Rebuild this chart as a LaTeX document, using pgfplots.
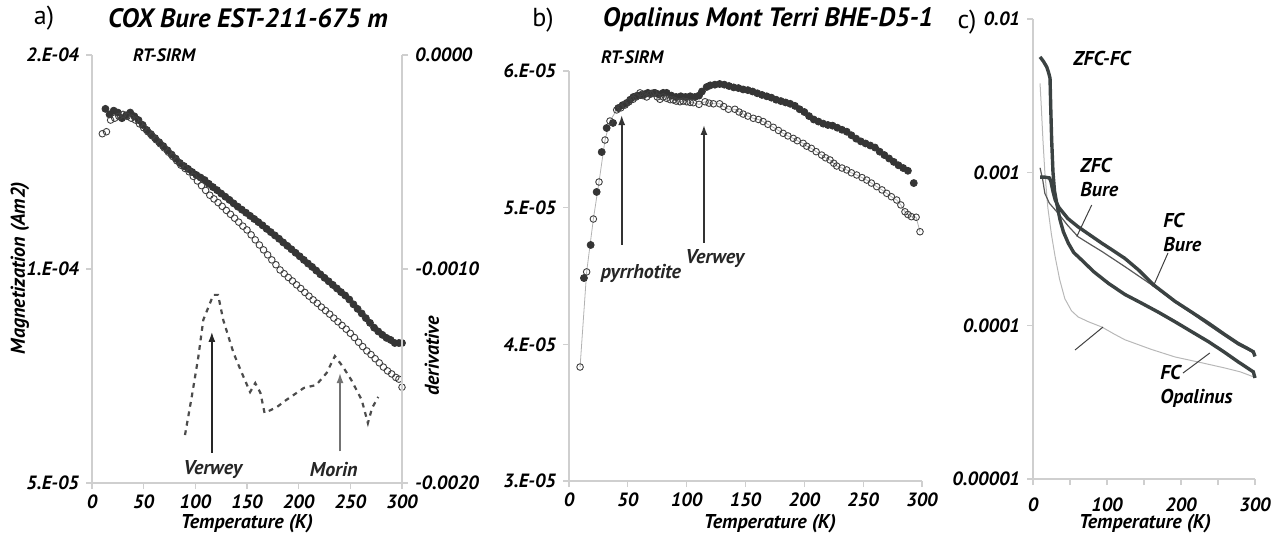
\documentclass[border=0pt]{standalone}
\usepackage{fontspec}
\setmainfont{PT Sans}
\usepackage{pgfplots}
\pgfplotsset{compat=1.18}
\usetikzlibrary{arrows.meta}
\definecolor{axgray}{HTML}{CFCFCF}
\definecolor{dotdark}{HTML}{353535}
\definecolor{curvedark}{HTML}{3B4242}
\newcommand\tk{\bfseries\itshape\fontsize{9.6}{11}\selectfont}
\newcommand\lb{\bfseries\itshape\fontsize{10}{12}\selectfont}
\pgfplotsset{
  base/.style={
    scale only axis,
    axis lines*=left,
    axis line style={draw=axgray,line width=0.6pt},
    tick style={draw=axgray,line width=0.6pt},
    tick align=outside,
    major tick length=3pt,
    tick label style={font=\tk},
    xticklabel style={yshift=-1.5pt, inner sep=1pt},
    scaled y ticks=false, scaled x ticks=false,
    xmin=0, xmax=300,
    clip=false,
    minor y tick style={draw=none},
  },
  filled/.style={only marks, mark=*, mark size=1.75pt, mark options={draw=dotdark, fill=dotdark}},
  open/.style={only marks, mark=o, mark size=1.65pt, mark options={draw=black!75, fill=white, line width=0.45pt}},
}
\begin{document}
\begin{tikzpicture}
\useasboundingbox (0,0) rectangle (642pt,270pt);
% ---------------- panel a ----------------
\node[anchor=center, font=\fontsize{13}{15}\selectfont] at (22pt,261pt) {a)};
\node[anchor=center, font=\bfseries\itshape\fontsize{13.3}{15}\selectfont] at (124pt,261pt) {COX Bure EST-211-675 m};
\node[anchor=west, font=\bfseries\itshape\fontsize{9}{11}\selectfont] at (63pt,242.5pt) {RT-SIRM};
\node[rotate=90, font=\lb] at (10pt,136pt) {Magnetization (Am2)};
\node[rotate=90, font=\lb] at (216pt,92pt) {derivative};
\node[font=\lb] at (123.5pt,8pt) {Temperature (K)};
\begin{axis}[base, at={(46pt,28.5pt)}, anchor=south west, width=155pt, height=214pt,
  ymode=log, ymin=5e-5, ymax=2e-4, ytick={5e-5,1e-4,2e-4}, yticklabels={5.E-05,1.E-04,2.E-04},
  xtick={0,50,...,300}, xticklabels={0,50,100,150,200,250,300}]
\addplot[filled] coordinates {(13,1.68e-4)(17,1.65e-4)(21,1.67e-4)(25,1.66e-4)(29,1.63e-4)(33,1.645e-4)(37,1.66e-4)(41,1.64e-4)(45,1.62e-4)(49,1.595e-4)(53,1.569e-4)(57,1.548e-4)(61,1.528e-4)(65,1.508e-4)(69,1.489e-4)(73,1.469e-4)(77,1.449e-4)(81,1.430e-4)(85,1.410e-4)(89,1.396e-4)(93,1.383e-4)(97,1.369e-4)(101,1.356e-4)(105,1.345e-4)(109,1.334e-4)(113,1.318e-4)(117,1.304e-4)(121,1.291e-4)(125,1.277e-4)(129,1.264e-4)(133,1.251e-4)(137,1.237e-4)(141,1.224e-4)(145,1.212e-4)(149,1.200e-4)(153,1.188e-4)(157,1.176e-4)(161,1.164e-4)(165,1.152e-4)(169,1.139e-4)(173,1.127e-4)(177,1.115e-4)(181,1.103e-4)(185,1.090e-4)(189,1.078e-4)(193,1.066e-4)(197,1.054e-4)(201,1.042e-4)(205,1.030e-4)(209,1.018e-4)(213,1.007e-4)(217,9.95e-5)(221,9.83e-5)(225,9.72e-5)(229,9.61e-5)(233,9.50e-5)(237,9.39e-5)(241,9.28e-5)(245,9.18e-5)(249,9.06e-5)(253,8.92e-5)(257,8.79e-5)(261,8.66e-5)(265,8.53e-5)(269,8.40e-5)(273,8.27e-5)(277,8.17e-5)(281,8.08e-5)(285,8.00e-5)(289,7.95e-5)(293,7.87e-5)(297,7.87e-5)(300,7.87e-5)};
\addplot[open] coordinates {(10,1.55e-4)(14,1.56e-4)(18,1.62e-4)(22,1.63e-4)(26,1.64e-4)(30,1.65e-4)(34,1.64e-4)(38,1.63e-4)(42,1.62e-4)(46,1.60e-4)(50,1.58e-4)(54,1.56e-4)(58,1.54e-4)(62,1.52e-4)(66,1.50e-4)(70,1.48e-4)(74,1.46e-4)(78,1.44e-4)(82,1.42e-4)(86,1.40e-4)(90,1.385e-4)(94,1.37e-4)(98,1.35e-4)(102,1.33e-4)(106,1.31e-4)(110,1.29e-4)(114,1.27e-4)(118,1.255e-4)(122,1.240e-4)(126,1.225e-4)(130,1.209e-4)(134,1.194e-4)(138,1.179e-4)(142,1.164e-4)(146,1.149e-4)(150,1.135e-4)(154,1.117e-4)(158,1.099e-4)(162,1.081e-4)(166,1.064e-4)(170,1.047e-4)(174,1.030e-4)(178,1.014e-4)(182,9.97e-5)(186,9.85e-5)(190,9.73e-5)(194,9.62e-5)(198,9.50e-5)(202,9.39e-5)(206,9.27e-5)(210,9.16e-5)(214,9.05e-5)(218,8.95e-5)(222,8.84e-5)(226,8.74e-5)(230,8.64e-5)(234,8.53e-5)(238,8.43e-5)(242,8.33e-5)(246,8.23e-5)(250,8.12e-5)(254,8.01e-5)(258,7.89e-5)(262,7.78e-5)(266,7.67e-5)(270,7.58e-5)(274,7.48e-5)(278,7.38e-5)(282,7.28e-5)(286,7.19e-5)(290,7.12e-5)(294,7.04e-5)(297,7.00e-5)(300,6.82e-5)};
\draw[-{Latex[length=5pt,width=3.5pt]}, line width=0.8pt, black!85] (axis cs:116,5.52e-5) -- (axis cs:116,8.16e-5);
\draw[-{Latex[length=5pt,width=3.5pt]}, line width=0.8pt, black!55] (axis cs:240,5.54e-5) -- (axis cs:240,7.14e-5);
\node[font=\lb, black!85] at (axis cs:117,5.23e-5) {Verwey};
\node[font=\lb, black!85] at (axis cs:234,5.23e-5) {Morin};
\end{axis}
\begin{axis}[base, at={(46pt,28.5pt)}, anchor=south west, width=155pt, height=214pt,
  axis x line=none, axis y line*=right,
  ymin=-0.002, ymax=0, ytick={-0.002,-0.001,0}, yticklabels={-0.0020,-0.0010,0.0000}]
\addplot[black!70, line width=1.1pt, dash pattern=on 2.4pt off 2.4pt] coordinates {(90,-0.001776)(96.5,-0.001598)(102.9,-0.001411)(107.7,-0.001238)(117.4,-0.001121)(122,-0.001121)(127,-0.001238)(137,-0.001393)(145,-0.001486)(153,-0.001575)(158,-0.001533)(163,-0.001579)(167,-0.001673)(179,-0.001645)(188,-0.001612)(205,-0.001556)(217,-0.001542)(227,-0.001486)(235,-0.001407)(243,-0.001458)(251,-0.001519)(261,-0.001612)(267,-0.001720)(271,-0.001650)(277,-0.001598)};
\end{axis}
% ---------------- panel b ----------------
\node[anchor=center, font=\fontsize{13}{15}\selectfont] at (271.5pt,260pt) {b)};
\node[anchor=center, font=\bfseries\itshape\fontsize{13.3}{15}\selectfont] at (384pt,260pt) {Opalinus Mont Terri BHE-D5-1};
\node[anchor=west, font=\bfseries\itshape\fontsize{9}{11}\selectfont] at (297pt,241.5pt) {RT-SIRM};
\node[font=\lb] at (385pt,8pt) {Temperature (K)};
\begin{axis}[base, at={(284.5pt,29.5pt)}, anchor=south west, width=176.5pt, height=205pt,
  ymin=3e-5, ymax=6e-5, ytick={3e-5,4e-5,5e-5,6e-5}, yticklabels={3.E-05,4.E-05,5.E-05,6.E-05},
  xtick={0,50,...,300}, xticklabels={0,50,100,150,200,250,300}]
\addplot[filled] coordinates {(12.7,4.485e-5)(18.4,4.727e-5)(23.5,5.115e-5)(27.8,5.407e-5)(32,5.583e-5)(37.4,5.62e-5)(41.9,5.729e-5)(45.5,5.75e-5)(49,5.766e-5)(52,5.79e-5)(54.7,5.81e-5)(58,5.82e-5)(61,5.824e-5)(64,5.83e-5)(67,5.84e-5)(70,5.835e-5)(73,5.84e-5)(76,5.83e-5)(80,5.84e-5)(83,5.84e-5)(87,5.82e-5)(91,5.81e-5)(95,5.815e-5)(99,5.81e-5)(103,5.815e-5)(107,5.81e-5)(110.5,5.82e-5)(113,5.85e-5)(117,5.883e-5)(120,5.895e-5)(124,5.9e-5)(128,5.905e-5)(132,5.9e-5)(136,5.89e-5)(140,5.88e-5)(144,5.875e-5)(148,5.865e-5)(152,5.86e-5)(156,5.85e-5)(160,5.837e-5)(164,5.825e-5)(168,5.815e-5)(172,5.805e-5)(176,5.79e-5)(180,5.78e-5)(184,5.77e-5)(188,5.76e-5)(192,5.745e-5)(196,5.72e-5)(200,5.70e-5)(204,5.67e-5)(208,5.645e-5)(212,5.63e-5)(216,5.615e-5)(220,5.605e-5)(224,5.6e-5)(228,5.585e-5)(232,5.57e-5)(236,5.556e-5)(240,5.53e-5)(244,5.505e-5)(248,5.485e-5)(252,5.47e-5)(256,5.455e-5)(260,5.44e-5)(264,5.41e-5)(268,5.385e-5)(272,5.36e-5)(276,5.335e-5)(280,5.31e-5)(284,5.29e-5)(288,5.27e-5)(293,5.18e-5)};
\addplot[draw=black!30, line width=0.4pt, mark=o, mark size=1.65pt, mark options={draw=black!75, fill=white, line width=0.45pt}] coordinates {(9.4,3.834e-5)(15,4.53e-5)(20.7,4.917e-5)(25.5,5.188e-5)(30.6,5.495e-5)(34.8,5.634e-5)(40.5,5.715e-5)(44,5.73e-5)(47.6,5.751e-5)(51,5.775e-5)(54.4,5.793e-5)(57,5.81e-5)(60.3,5.84e-5)(63,5.82e-5)(66,5.81e-5)(69,5.83e-5)(72,5.84e-5)(75,5.81e-5)(77.3,5.793e-5)(80,5.81e-5)(83,5.80e-5)(86,5.79e-5)(88.6,5.788e-5)(91,5.78e-5)(94.3,5.775e-5)(97,5.78e-5)(100,5.775e-5)(103,5.77e-5)(105.7,5.768e-5)(110.5,5.756e-5)(115.6,5.775e-5)(119,5.765e-5)(122.7,5.76e-5)(128,5.76e-5)(131.5,5.74e-5)(135.5,5.72e-5)(141,5.72e-5)(144.5,5.70e-5)(148,5.685e-5)(152,5.67e-5)(156.6,5.654e-5)(161,5.645e-5)(165,5.63e-5)(169,5.61e-5)(173.6,5.588e-5)(178,5.565e-5)(182,5.544e-5)(186,5.525e-5)(190.6,5.507e-5)(194,5.49e-5)(199,5.471e-5)(202,5.45e-5)(206,5.434e-5)(210,5.41e-5)(214.7,5.385e-5)(218,5.365e-5)(221.8,5.349e-5)(225,5.325e-5)(227.5,5.305e-5)(232,5.29e-5)(236,5.276e-5)(240,5.255e-5)(244.5,5.239e-5)(249,5.22e-5)(253,5.202e-5)(257,5.18e-5)(261.5,5.154e-5)(266,5.13e-5)(270,5.105e-5)(274,5.08e-5)(278.5,5.056e-5)(282,5.02e-5)(285.5,4.97e-5)(288,4.95e-5)(291,4.934e-5)(295,4.93e-5)(298.3,4.824e-5)};
\draw[-{Latex[length=5pt,width=3.5pt]}, line width=0.8pt, black!80] (axis cs:44.8,4.727e-5) -- (axis cs:44.8,5.678e-5);
\draw[-{Latex[length=5pt,width=3.5pt]}, line width=0.8pt, black!80] (axis cs:114.7,4.744e-5) -- (axis cs:114.7,5.605e-5);
\node[font=\lb, black!85, anchor=west] at (axis cs:21,4.52e-5) {pyrrhotite};
\node[font=\lb, black!85] at (axis cs:124,4.63e-5) {Verwey};
\end{axis}
% ---------------- panel c ----------------
\node[anchor=center, font=\fontsize{13}{15}\selectfont] at (483.5pt,259pt) {c)};
\node[font=\lb] at (572.5pt,8pt) {Temperature (K)};
\begin{axis}[base, at={(516.5pt,30.5pt)}, anchor=south west, width=111pt, height=230pt,
  ymode=log, ymin=1e-5, ymax=1e-2, ytick={1e-5,1e-4,1e-3,1e-2}, yticklabels={0.00001,0.0001,0.001,0.01},
  xtick={0,50,...,300}, xticklabels={0,,100,,200,,300}, xticklabel style={yshift=-3.5pt}]
% ZFC Opalinus (light)
\addplot[black!28, line width=0.5pt] coordinates {(9.5,3.8e-3)(11,2.8e-3)(13.5,1.6e-3)(16,1.0e-3)(20,5.9e-4)(25,3.9e-4)(30,2.8e-4)(36,2.0e-4)(43,1.5e-4)(52,1.25e-4)(61,1.14e-4)(75,1.06e-4)(93,9.8e-5)(110,8.8e-5)(124,8.1e-5)(160,7.0e-5)(192,6.25e-5)(230,5.7e-5)(259,5.3e-5)(280,5.0e-5)(300,4.6e-5)};
% ZFC Bure (thin)
\addplot[black!65, line width=0.6pt] coordinates {(9.5,1.07e-3)(13,9.0e-4)(16,7.3e-4)(22,6.3e-4)(34,5.4e-4)(47,4.5e-4)(61,3.8e-4)(77,3.4e-4)(93,3.05e-4)(124,2.43e-4)(160,1.85e-4)(192,1.42e-4)(215,1.2e-4)(237,1.01e-4)(257,8.7e-5)(277,7.5e-5)(300,6.6e-5)};
% FC Bure (thick)
\addplot[curvedark, line width=1.7pt] coordinates {(9.5,9.3e-4)(16,9.3e-4)(22,9.2e-4)(24,8.8e-4)(27,7.5e-4)(30,6.6e-4)(35,5.9e-4)(47,5.0e-4)(61,4.41e-4)(77,3.9e-4)(93,3.45e-4)(110,3.05e-4)(124,2.75e-4)(143,2.3e-4)(162.6,1.85e-4)(192,1.44e-4)(215,1.22e-4)(237,1.04e-4)(257,8.9e-5)(277,7.67e-5)(290,7.1e-5)(297.7,6.76e-5)(300,6.3e-5)};
% FC Opalinus (thick)
\addplot[curvedark, line width=1.7pt] coordinates {(9.5,5.66e-3)(14,5.3e-3)(18.5,4.87e-3)(21.5,4.4e-3)(23,4.1e-3)(24,2.6e-3)(25.2,1.63e-3)(27,1.0e-3)(29,7.6e-4)(32,6.3e-4)(36.5,4.9e-4)(41,4.1e-4)(47.7,3.45e-4)(55,3.0e-4)(65.8,2.68e-4)(82,2.25e-4)(101.8,1.89e-4)(124,1.6e-4)(147,1.4e-4)(170,1.22e-4)(192,1.06e-4)(215,9.1e-5)(237,7.87e-5)(257,6.8e-5)(277,5.82e-5)(297.7,5.0e-5)(300,4.56e-5)};
\node[font=\lb] at (axis cs:93,5.55e-3) {ZFC-FC};
\node[font=\lb, anchor=west, align=left, inner sep=0pt] at (axis cs:63.5,9.2e-4) {ZFC\\Bure};
\node[font=\lb, anchor=west, align=left, inner sep=0pt] at (axis cs:175.7,4.08e-4) {FC\\Bure};
\node[font=\lb, anchor=west, align=left, inner sep=0pt] at (axis cs:171.6,4.05e-5) {FC\\Opalinus};
\draw[black!75, line width=0.5pt] (axis cs:79.3,6.12e-4) -- (axis cs:59.1,3.81e-4);
\draw[black!75, line width=0.5pt] (axis cs:182.4,2.98e-4) -- (axis cs:162.2,1.79e-4);
\draw[black!75, line width=0.5pt] (axis cs:56.8,6.94e-5) -- (axis cs:94.6,9.8e-5);
\draw[black!75, line width=0.5pt] (axis cs:202.7,4.91e-5) -- (axis cs:239,6.64e-5);
\end{axis}
\end{tikzpicture}
\end{document}
